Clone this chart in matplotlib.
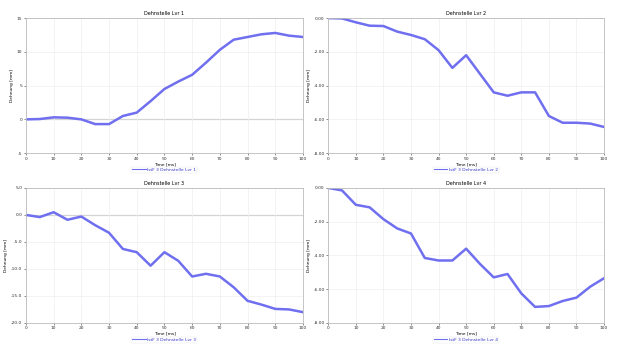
import matplotlib.pyplot as plt
import matplotlib

matplotlib.use('agg')

time_ms = [0, 5, 10, 15, 20, 25, 30, 35, 40, 45, 50,
           55, 60, 65, 70, 75, 80, 85, 90, 95, 100]

lvr_1 = [0, 0.05, 0.3, 0.25, 0, -0.7, -0.7, 0.5, 1.0, 2.7, 4.5,
         5.6, 6.6, 8.4, 10.3, 11.8, 12.2, 12.6, 12.8, 12.4, 12.2]
lvr_2 = [0, -0.02, -0.25, -0.45, -0.47, -0.8, -1.0, -1.25, -1.9, -2.95, -2.2,
         -3.3, -4.4, -4.6, -4.4, -4.4, -5.8, -6.2, -6.2, -6.25, -6.45]
lvr_3 = [0, -0.4, 0.5, -0.9, -0.3, -1.9, -3.3, -6.3, -6.9, -9.4, -6.9,
         -8.5, -11.4, -10.9, -11.4, -13.4, -15.9, -16.6, -17.4, -17.5, -18.0]
lvr_4 = [0, -0.15, -1.0, -1.15, -1.85, -2.4, -2.7, -4.15, -4.3, -4.3, -3.6,
         -4.5, -5.3, -5.1, -6.25, -7.05, -7.0, -6.7, -6.5, -5.85, -5.35]

series = [lvr_1, lvr_2, lvr_3, lvr_4]
titles = ['Dehnstelle Lvr 1', 'Dehnstelle Lvr 2', 'Dehnstelle Lvr 3', 'Dehnstelle Lvr 4']
legend_labels = ['IstF 3 Dehnstelle Lvr 1', 'IstF 3 Dehnstelle Lvr 2',
                 'IstF 3 Dehnstelle Lvr 3', 'IstF 3 Dehnstelle Lvr 4']
y_limits = [(-5, 15), (-8, 0), (-20, 5), (-8, 0)]
y_steps = [5, 2, 5, 2]
y_formats = ['%g', '%.2f', '%.1f', '%.2f']

# axes boxes in figure fractions: left, bottom, width, height
boxes = [
    (0.042, 0.560, 0.449, 0.388),
    (0.532, 0.560, 0.447, 0.388),
    (0.042, 0.072, 0.449, 0.388),
    (0.532, 0.072, 0.447, 0.388),
]

line_color = '#6f6ff0'
fs = 3.2

fig = plt.figure(figsize=(6.17, 3.48), dpi=100)

for i in range(4):
    ax = fig.add_axes(boxes[i])
    lo, hi = y_limits[i]
    ax.plot(time_ms, series[i], color=line_color, linewidth=1.8,
            label=legend_labels[i])
    if lo < 0 < hi:
        ax.axhline(0, color='#9a9a9a', linewidth=0.8, zorder=1)
    ax.set_xlim(0, 100)
    ax.set_ylim(lo, hi)
    ax.set_xticks(range(0, 101, 10))
    ticks = []
    v = lo
    while v <= hi + 1e-9:
        ticks.append(v)
        v += y_steps[i]
    ax.set_yticks(ticks)
    ax.set_yticklabels([y_formats[i] % t for t in ticks])
    ax.grid(True, color='#eeeeee', linewidth=0.5)
    ax.tick_params(labelsize=fs, length=1.5, width=0.4, pad=1, colors='#333333')
    for s in ax.spines.values():
        s.set_color('#bbbbbb')
        s.set_linewidth(0.6)
    ax.set_title(titles[i], fontsize=fs + 0.3, pad=2)
    ax.set_xlabel('Time [ms]', fontsize=fs, labelpad=1)
    ax.set_ylabel('Dehnung [mm]', fontsize=fs, labelpad=2)
    leg = ax.legend(loc='upper center', bbox_to_anchor=(0.5, -0.085),
                    fontsize=fs, frameon=True, handlelength=3,
                    borderpad=0.2, handletextpad=0.4)
    leg.get_frame().set_linewidth(0.3)
    leg.get_frame().set_edgecolor('#dddddd')
    for t in leg.get_texts():
        t.set_color('#3333cc')
    for ln in leg.get_lines():
        ln.set_linewidth(0.8)

plt.savefig('out.png', dpi=100)
plt.close()
